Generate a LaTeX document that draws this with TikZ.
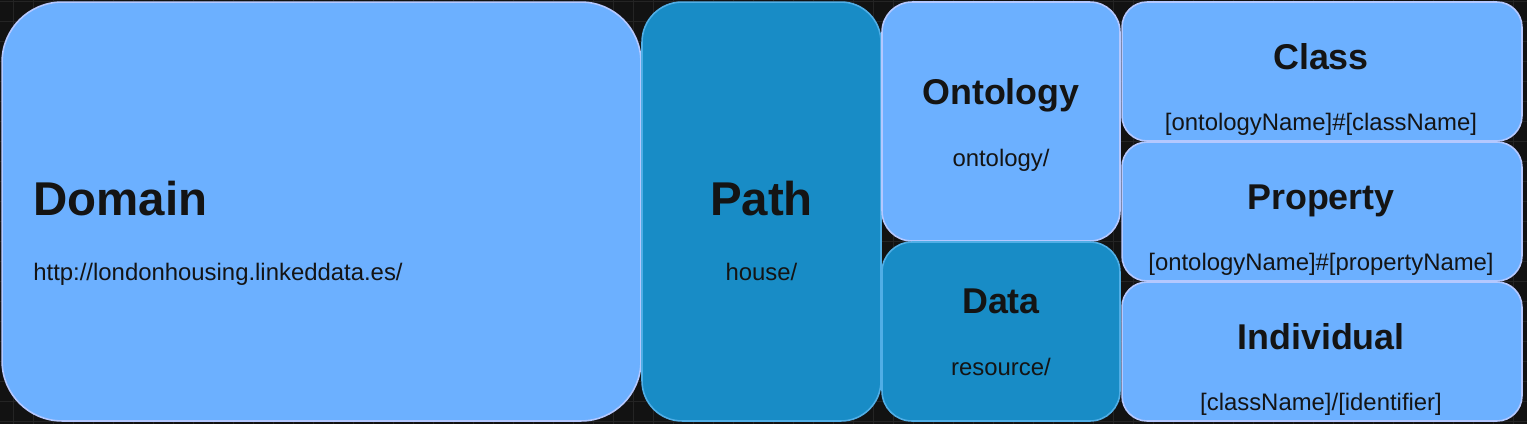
\documentclass[tikz,border=0pt]{standalone}
\usepackage{fontspec}
\setmainfont{Liberation Sans}
\usepackage{tikz}
\usetikzlibrary{positioning, calc}
\usepackage{xcolor}
\definecolor{canvasbg}{HTML}{121212}
\definecolor{gridgray}{HTML}{242424}
\definecolor{lightblue}{HTML}{6CB0FF}
\definecolor{lightedge}{HTML}{B4C8FF}
\definecolor{darkblue}{HTML}{188CC6}
\definecolor{darkedge}{HTML}{50AEE6}
\definecolor{inkgray}{HTML}{141414}

\begin{document}
\begin{tikzpicture}[
  x=0.02cm, y=-0.02cm,
  part/.style={draw, line width=0.9pt, inner sep=0pt, outer sep=0pt},
  lightpart/.style={part, fill=lightblue, draw=lightedge},
  darkpart/.style={part, fill=darkblue, draw=darkedge},
  bigtitle/.style={font=\fontsize{27}{31}\selectfont\bfseries,
    text=inkgray, inner sep=0pt},
  title/.style={font=\fontsize{20.4}{24}\selectfont\bfseries,
    text=inkgray, inner sep=0pt},
  sub/.style={font=\fontsize{13.6}{16}\selectfont,
    text=inkgray, inner sep=0pt}
]
  % Canvas
  \fill[canvasbg] (0,0) rectangle (1527,424);
  \useasboundingbox (0,0) rectangle (1527,424);
  \foreach \gx in {13,33,...,1513}
    \draw[gridgray, line width=0.4pt] (\gx,0) -- (\gx,424);
  \foreach \gy in {1,21,...,421}
    \draw[gridgray, line width=0.4pt] (0,\gy) -- (1527,\gy);

  % Domain
  \node[lightpart, rounded corners=1.2cm, minimum width=12.78cm,
    minimum height=8.38cm] (domain) at (321.5,211.5) {};
  \node[bigtitle, anchor=base west] (domaint) at (33,215) {Domain};
  \node[sub, anchor=base west] (domainv) at (33,280)
    {http://londonhousing.linkeddata.es/};

  % Path
  \node[darkpart, rounded corners=0.8cm, minimum width=4.78cm,
    minimum height=8.38cm] (path) at (761.5,211.5) {};
  \node[bigtitle, anchor=base] (patht) at (761.5,215) {Path};
  \node[sub, anchor=base] (pathv) at (761.5,280) {house/};

  % Ontology
  \node[lightpart, rounded corners=0.6cm, minimum width=4.76cm,
    minimum height=4.78cm] (onto) at (1001,121.5) {};
  \node[title, anchor=base] (ontot) at (1001,104) {Ontology};
  \node[sub, anchor=base] (ontov) at (1001,166) {ontology/};

  % Data
  \node[darkpart, rounded corners=0.6cm, minimum width=4.76cm,
    minimum height=3.58cm] (data) at (1001,331.5) {};
  \node[title, anchor=base] (datat) at (1001,313) {Data};
  \node[sub, anchor=base] (datav) at (1001,375) {resource/};

  % Class / Property / Individual
  \foreach \nm/\lbl/\val [count=\i from 0] in
    {cls/Class/{[ontologyName]\#[className]},
     prop/Property/{[ontologyName]\#[propertyName]},
     indiv/Individual/{[className]/[identifier]}} {
    \node[lightpart, rounded corners=0.5cm, minimum width=8cm,
      minimum height=2.78cm] (\nm) at (1322,71.5+140*\i) {};
    \node[title, anchor=base] (\nm t) at (1321,69+140*\i) {\lbl};
    \node[sub, anchor=base] (\nm v) at (1321,130+140*\i) {\val};
  }
\end{tikzpicture}
\end{document}
